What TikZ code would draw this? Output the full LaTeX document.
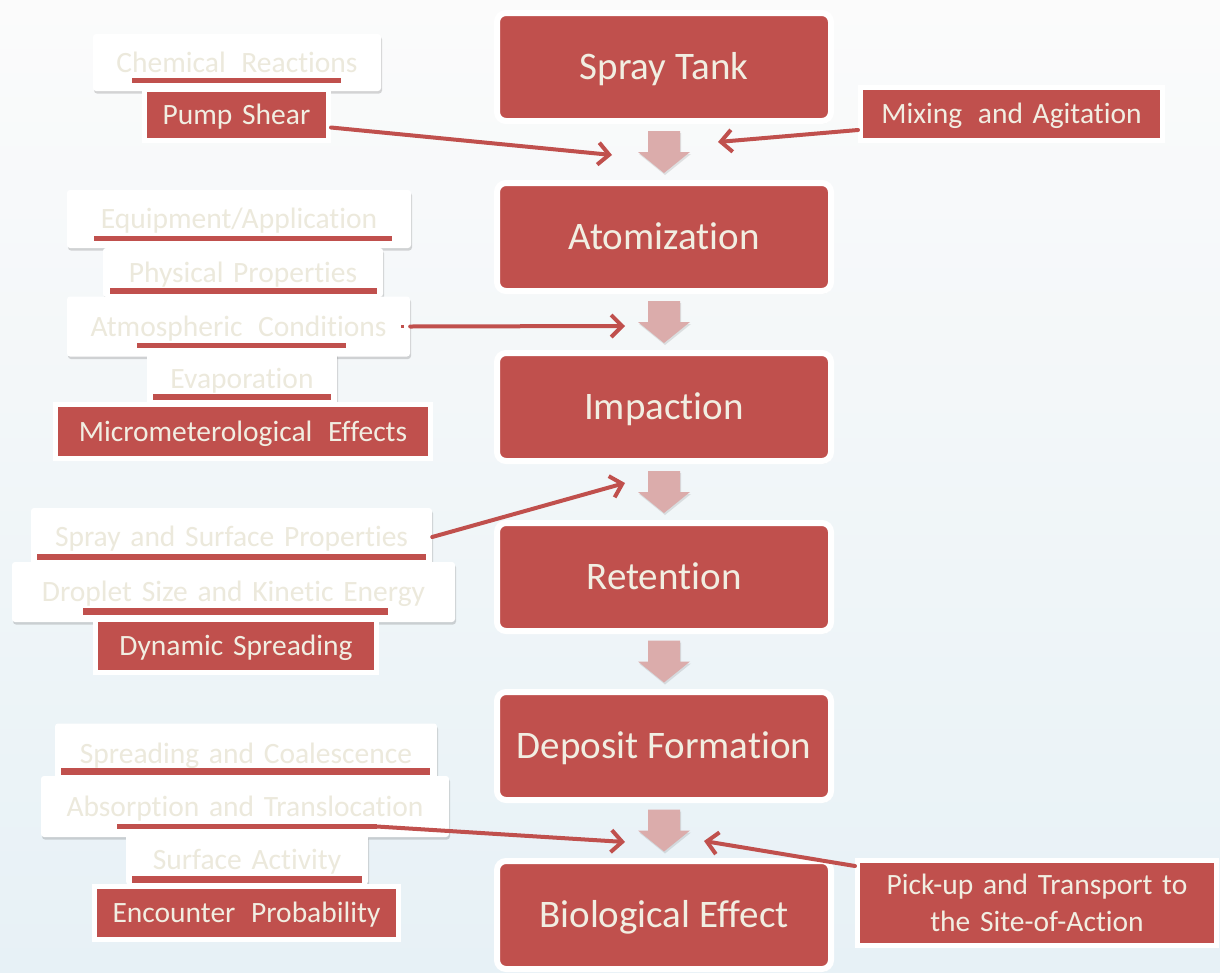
\documentclass[tikz,border=0pt]{standalone}
\usepackage{fontspec}
\setmainfont{Carlito}[Ligatures={NoCommon}]
\usetikzlibrary{arrows.meta,calc,shadows}

\definecolor{accent}{HTML}{C0504D}
\definecolor{cream}{HTML}{F1EEE2}
\definecolor{faint}{HTML}{ECE9DC}
\definecolor{flowpink}{HTML}{DBACAB}
\definecolor{bgtop}{HTML}{FBFBFB}
\definecolor{bgmid}{HTML}{F1F2F3}
\definecolor{bgbot}{HTML}{E7F1F6}

\newcommand{\wgap}{\hspace{0.2em}}

\tikzset{
  softshadow/.style={drop shadow={shadow xshift=1pt, shadow yshift=-2.5pt, opacity=0.22, fill=black!70}},
  widespace/.style={execute at begin node={\spaceskip=0.33em plus 0.1em\relax}},
  stage/.style={rectangle, rounded corners=9pt, fill=accent, draw=white, line width=6pt,
    minimum width=334pt, minimum height=108pt, inner sep=0pt, text=cream,
    font=\fontsize{39}{46}\selectfont, text height=25pt, text depth=0pt, softshadow},
  redtag/.style={rectangle, fill=accent, draw=white, line width=5pt, inner sep=0pt, text=cream,
    font=\fontsize{29.5}{37}\selectfont, text height=19pt, text depth=0pt, widespace, softshadow},
  whitetag/.style={rectangle, rounded corners=3pt, fill=white, inner sep=0pt, text=faint,
    font=\fontsize{29.5}{37}\selectfont, text height=19pt, text depth=0pt, widespace, softshadow},
  bar/.style={fill=accent},
  feed/.style={draw=accent, line width=4pt, line cap=round, -{Straight Barb[length=11pt, width=22pt]}},
  flow/.style={fill=flowpink, drop shadow={shadow xshift=1pt, shadow yshift=-2pt, opacity=0.15, fill=black!70}},
}

\begin{document}
\begin{tikzpicture}[x=1pt, y=-1pt]
  \useasboundingbox (0,0) rectangle (1220,972);
  \shade[top color=bgtop, middle color=bgmid, bottom color=bgbot] (0,0) rectangle (1220,972);

  % main process chain
  \node[stage] (tank)   at (664,67)  {Spray Tank};
  \node[stage] (atom)   at (664,237) {Atomization};
  \node[stage] (impact) at (664,407) {Impaction};
  \node[stage] (retain) at (664,577) {Retention};
  \node[stage] (deposit) at (664,746) {Deposit Formation};
  \node[stage] (bio)    at (664,915) {Biological Effect};

  % block arrows between the stages
  \foreach \a/\b in {tank/atom, atom/impact, impact/retain, retain/deposit, deposit/bio}{
    \path ($(\a.south)!0.5!(\b.north)$) coordinate (m);
    \fill[flow, shift={(m)}] (-16,-21) -- (16,-21) -- (16,0) -- (26,0) -- (0,21) -- (-26,0) -- (-16,0) -- cycle;
  }

  % spray tank factors
  \node[whitetag, minimum width=288pt, minimum height=57pt] (chem) at (237,62.5) {Chemical\wgap{} Reactions};
  \fill[bar] (132,78) rectangle (341,83);
  \node[redtag, minimum width=184pt, minimum height=51pt] (pump) at (236.5,114.5) {Pump Shear};
  \node[redtag, minimum width=302pt, minimum height=53pt] (mixing) at (1011.5,114) {Mixing\wgap{} and Agitation};

  % atomization factors
  \node[whitetag, minimum width=344pt, minimum height=58pt] (equip) at (239,219) {Equipment/Application};
  \fill[bar] (94,236) rectangle (392,241);
  \node[whitetag, minimum width=280pt, minimum height=49pt] (phys) at (243,272.5) {Physical Properties};
  \fill[bar] (110,288) rectangle (377,294);
  \node[whitetag, minimum width=343pt, minimum height=60pt] (atmo) at (238.5,326.5) {Atmospheric\wgap{} Conditions};
  \fill[bar] (137,343) rectangle (346,348);
  \fill[accent] (401,324.5) rectangle (404,328);
  \node[whitetag, minimum width=190pt, minimum height=53pt] (evap) at (242,379) {Evaporation};
  \fill[bar] (153,394) rectangle (331,400);
  \node[redtag, minimum width=375pt, minimum height=54pt] (micro) at (243,431.5) {Micrometerological\wgap{} Effects};

  % impaction factors
  \node[whitetag, minimum width=401pt, minimum height=58pt] (sprayprop) at (231.5,537) {Spray and Surface Properties};
  \fill[bar] (37,554) rectangle (426,560);
  \node[whitetag, minimum width=443pt, minimum height=60pt] (droplet) at (233.5,592) {Droplet Size and Kinetic Energy};
  \fill[bar] (83,608) rectangle (388,615);
  \node[redtag, minimum width=281pt, minimum height=53pt] (dynamic) at (236,646) {Dynamic Spreading};

  % deposit factors
  \node[whitetag, minimum width=382pt, minimum height=60pt] (coalesce) at (246,753.5) {Spreading and Coalescence};
  \fill[bar] (61,768) rectangle (430,775);
  \node[whitetag, minimum width=408pt, minimum height=61pt] (absorb) at (245,806.5) {Absorption and Translocation};
  \fill[bar] (117,824) rectangle (377,829);
  \coordinate (absorbend) at (377,826.5);
  \node[whitetag, minimum width=242pt, minimum height=50pt] (surface) at (247,859.5) {Surface Activity};
  \fill[bar] (132,876) rectangle (362,883);
  \node[redtag, minimum width=304pt, minimum height=53pt] (encounter) at (246.5,912.5) {Encounter\wgap{} Probability};

  % biological effect factor
  \node[redtag, minimum width=359pt, minimum height=85pt, align=center, text height=, text depth=,
        font=\fontsize{29.5}{37}\selectfont] (pickup) at (1037,903)
        {Pick-up and Transport to\\the Site-of-Action};

  % arrow targets beside the block arrows
  \coordinate (tipA) at (612,155);
  \coordinate (tipB) at (718,142);
  \coordinate (tipC) at (625,326);
  \coordinate (tipD) at (625,483);
  \coordinate (tipE) at (625,842);
  \coordinate (tipF) at (704,841);

  % feeding arrows
  \draw[feed] ($(pump.east)+(0,13)$) -- (tipA);
  \draw[feed] ($(mixing.west)+(0,16)$) -- (tipB);
  \draw[feed] (atmo.east) -- (tipC);
  \draw[feed] (sprayprop.east) -- (tipD);
  \draw[feed] (absorbend) -- (tipE);
  \draw[feed] ($(pickup.west)+(0,-37)$) -- (tipF);
\end{tikzpicture}
\end{document}
